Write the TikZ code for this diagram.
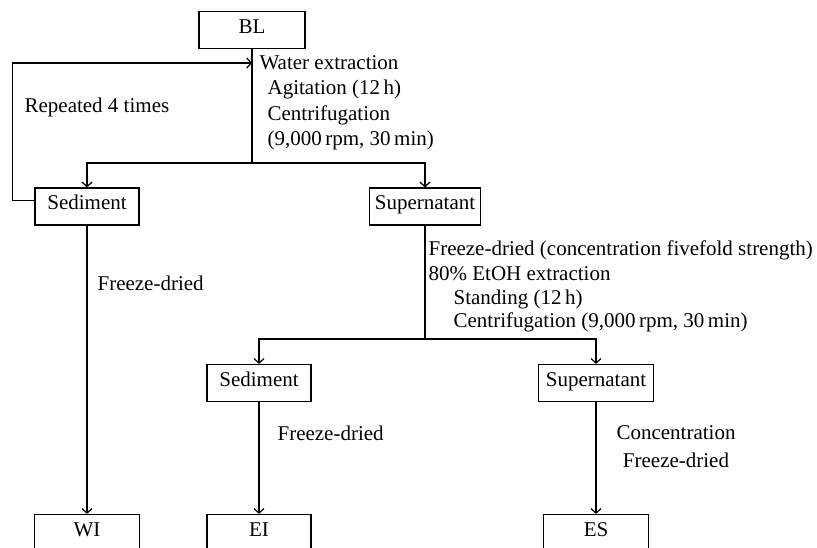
\documentclass[tikz,border=0pt]{standalone}
\usepackage{fontspec}
\setmainfont{Liberation Serif}
\usetikzlibrary{arrows.meta}
\begin{document}
\begin{tikzpicture}[x=1pt,y=-1pt,
  font=\fontsize{21}{25}\selectfont,
  line width=1.2pt,
  box/.style={draw, line width=1.2pt, minimum height=37pt, inner sep=0pt, text height=0.76em, text depth=0.1em},
  lbl/.style={anchor=west, inner sep=0pt, text height=0.76em, text depth=0.1em},
  clbl/.style={anchor=center, inner sep=0pt, text height=0.76em, text depth=0.1em},
  arr/.style={-{Straight Barb[length=4.5pt,width=10pt]}}]
\useasboundingbox (0,0) rectangle (817,548);
\clip (0,0) rectangle (817,548);
% boxes
\node[box, minimum width=106pt] (bl) at (252,30) {BL};
\node[box, minimum width=104pt] (sed1) at (87,206.5) {Sediment};
\node[box, minimum width=111pt] (sup1) at (425,206.5) {Supernatant};
\node[box, minimum width=104pt] (sed2) at (259,383) {Sediment};
\node[box, minimum width=115pt] (sup2) at (596,383) {Supernatant};
\node[box, minimum width=105pt] (wi) at (87,533) {WI};
\node[box, minimum width=104pt] (ei) at (259,533) {EI};
\node[box, minimum width=105pt] (es) at (596,533) {ES};
% junctions
\coordinate (j1) at (252,163);
\coordinate (j2) at (425,339);
\coordinate (loopend) at (252,63);
% connectors
\draw (bl.south) -- (j1);
\draw[arr] (j1) -| (sed1.north);
\draw[arr] (j1) -| (sup1.north);
\draw[arr] ([yshift=6pt]sed1.west) -- ++(-22,0) |- (loopend);
\draw[arr] (sed1.south) -- (wi.north);
\draw (sup1.south) -- (j2);
\draw[arr] (j2) -| (sed2.north);
\draw[arr] (j2) -| (sup2.north);
\draw[arr] (sed2.south) -- (ei.north);
\draw[arr] (sup2.south) -- (es.north);
% labels
\node[lbl] (t1) at (259,66) {Water extraction};
\node[lbl] (t2) at (267,91) {Agitation (12\,h)};
\node[lbl] (t3) at (267,117) {Centrifugation};
\node[lbl] (t4) at (267,142) {(9,000\,rpm, 30\,min)};
\node[lbl] (t5) at (24,109) {Repeated 4 times};
\node[lbl] (t6) at (97,287) {Freeze-dried};
\node[lbl] (t7) at (428,252) {Freeze-dried (concentration fivefold strength)};
\node[lbl] (t8) at (428,277) {80\% EtOH extraction};
\node[lbl] (t9) at (453,301) {Standing (12\,h)};
\node[lbl] (t10) at (453,324) {Centrifugation (9,000\,rpm, 30\,min)};
\node[lbl] (t11) at (277,437) {Freeze-dried};
\node[clbl] (t12) at (676,436) {Concentration};
\node[clbl] (t13) at (676,464) {Freeze-dried};
\end{tikzpicture}
\end{document}
